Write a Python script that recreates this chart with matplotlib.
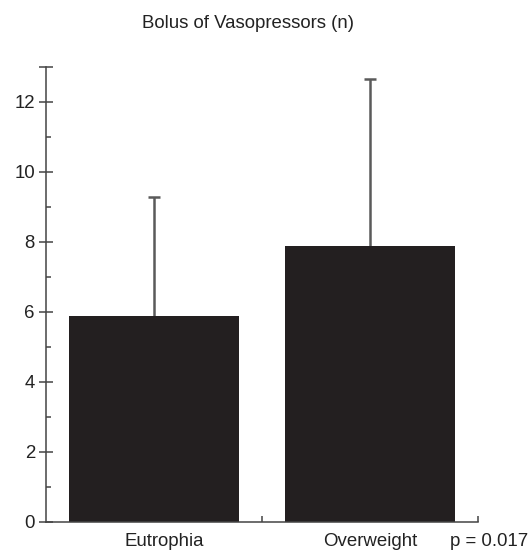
import matplotlib
matplotlib.use("Agg")
import matplotlib.pyplot as plt
from matplotlib.ticker import FixedLocator
from matplotlib.transforms import ScaledTranslation

plt.rcParams['font.family'] = ['Liberation Sans', 'DejaVu Sans']

categories = ["Eutrophia", "Overweight"]
means = [5.9, 7.9]
sd_upper = [3.4, 4.75]
title = "Bolus of Vasopressors (n)"
p_text = "p = 0.017"

W, H = 530, 551
fig = plt.figure(figsize=(W / 100, H / 100), dpi=100)
ax = fig.add_axes([46 / W, 1 - 522 / H, (478 - 46) / W, (522 - 67) / H])

x = list(range(len(categories)))
tops = [m + s for m, s in zip(means, sd_upper)]
bar_col = "#231f20"
err_col = "#5a5a5a"
ax.bar(x, means, width=0.79, color=bar_col, zorder=2)
ax.vlines(x, means, tops, color=err_col, linewidth=1.8, zorder=1)
ax.plot(x, tops, linestyle="none", marker="_", markersize=9,
        markeredgewidth=1.8, color=err_col, zorder=1)

ax.set_xlim(-0.5, 1.5)
ax.set_ylim(0, 13)
for s in ["top", "right"]:
    ax.spines[s].set_visible(False)
for s in ["left", "bottom"]:
    ax.spines[s].set_color("#444444")
    ax.spines[s].set_linewidth(1.1)

ax.yaxis.set_major_locator(FixedLocator([0, 2, 4, 6, 8, 10, 12, 13]))
ax.set_yticklabels(["0", "2", "4", "6", "8", "10", "12", ""])
ax.yaxis.set_minor_locator(FixedLocator([1, 3, 5, 7, 9, 11]))
ax.tick_params(axis="y", which="major", direction="inout", length=10, width=1.1,
               color="#444444", labelsize=13.4, pad=3, labelcolor="#222222")
ax.tick_params(axis="y", which="minor", direction="in", length=3.5, width=1.1,
               color="#444444")

ax.set_xticks(x)
ax.set_xticklabels(categories)
ax.xaxis.set_minor_locator(FixedLocator([0.5, 1.5]))
ax.tick_params(axis="x", which="major", length=0, labelsize=13.4, pad=8,
               labelcolor="#222222")
ax.tick_params(axis="x", which="minor", direction="in", length=4, width=1.1,
               color="#444444")
# first category label sits slightly right of its bar centre in the reference
lbl = ax.get_xticklabels()[0]
lbl.set_transform(lbl.get_transform() + ScaledTranslation(10 / 100, 0, fig.dpi_scale_trans))

fig.text(248 / W, 1 - 23 / H, title, ha="center", va="center", fontsize=13.4,
         color="#222222")
fig.text(528 / W, 1 - 546 / H, p_text, ha="right", va="baseline", fontsize=13.4,
         color="#222222")

fig.savefig("out.png", dpi=100)
